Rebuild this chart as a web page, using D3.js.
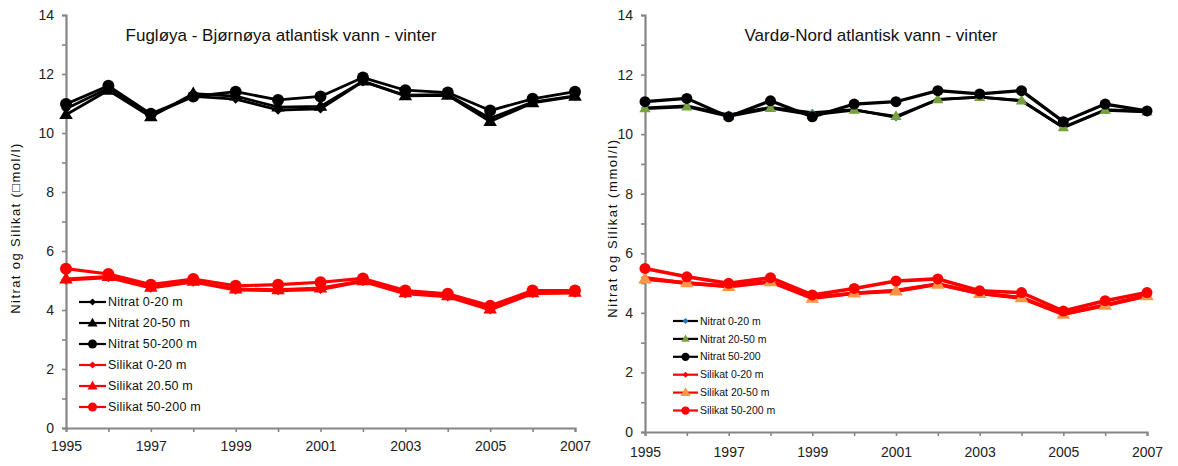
<!DOCTYPE html>
<html>
<head>
<meta charset="utf-8">
<script src="https://cdn.jsdelivr.net/npm/d3@7"></script>
<style>
  html, body { margin: 0; padding: 0; background: #fff; }
  svg { display: block; font-family: "Liberation Sans", Arial, sans-serif; }
</style>
</head>
<body>
<svg id="chart" width="1178" height="466"></svg>
<script>
// ---------- data ----------
const years = [1995,1996,1997,1998,1999,2000,2001,2002,2003,2004,2005,2006,2007];
const yTicks = [0,1,2,3,4,5,6,7,8,9,10,11,12,13,14];
const xTickLabels = [1995,1997,1999,2001,2003,2005,2007];

// Fugløya - Bjørnøya
const fbNitrat0_20   = [10.82,11.52,10.60,11.24,11.15,10.78,10.82,11.74,11.28,11.30,10.50,11.05,11.26];
const fbNitrat20_50  = [10.62,11.45,10.55,11.33,11.25,10.88,10.90,11.76,11.26,11.28,10.39,11.02,11.24];
const fbNitrat50_200 = [10.98,11.60,10.65,11.24,11.40,11.12,11.24,11.88,11.45,11.37,10.76,11.16,11.40];
const fbSilikat0_20  = [5.02,5.10,4.75,4.95,4.68,4.66,4.70,4.97,4.55,4.45,4.01,4.56,4.58];
const fbSilikat20_50 = [5.05,5.13,4.77,4.97,4.71,4.68,4.74,4.99,4.58,4.48,4.03,4.58,4.60];
const fbSilikat50_200= [5.40,5.22,4.86,5.05,4.82,4.86,4.94,5.07,4.66,4.55,4.14,4.66,4.66];

// Vardø-Nord
const vnNitrat0_20   = [10.88,10.95,10.65,10.90,10.72,10.82,10.56,11.17,11.24,11.13,10.23,10.82,10.76];
const vnNitrat20_50  = [10.86,10.92,10.60,10.87,10.65,10.81,10.60,11.16,11.24,11.12,10.22,10.80,10.75];
const vnNitrat50_200 = [11.09,11.20,10.58,11.12,10.58,11.01,11.09,11.46,11.35,11.46,10.42,11.01,10.78];
const vnSilikat0_20  = [5.18,4.99,4.90,5.05,4.52,4.66,4.75,4.97,4.66,4.51,3.96,4.26,4.58];
const vnSilikat20_50 = [5.13,5.01,4.88,5.04,4.49,4.66,4.73,4.96,4.65,4.50,3.95,4.25,4.57];
const vnSilikat50_200= [5.49,5.21,4.99,5.18,4.60,4.82,5.07,5.14,4.74,4.68,4.06,4.41,4.68];

const fbNames = ["Nitrat 0-20 m","Nitrat 20-50 m","Nitrat 50-200 m","Silikat 0-20 m","Silikat 20.50 m","Silikat 50-200 m"];
const vnNames = ["Nitrat 0-20 m","Nitrat 20-50 m","Nitrat 50-200","Silikat 0-20 m","Silikat 20-50 m","Silikat 50-200 m"];

const titles = ["Fugløya - Bjørnøya atlantisk vann - vinter","Vardø-Nord atlantisk vann - vinter"];
const yLabels = ["Nitrat og Silikat (\u25A1mol/l)","Nitrat og Silikat (mmol/l)"];

// ---------- drawing ----------
const svg = d3.select("#chart");

function drawPanel(cfg) {
  const g = svg.append("g");
  const x = d3.scaleLinear().domain([1995, 2007]).range([cfg.x0, cfg.x1]);
  const y = d3.scaleLinear().domain([0, 14]).range([cfg.y0, cfg.y1]);

  // axes
  const ya = g.append("g").attr("transform", `translate(${cfg.x0},0)`)
    .call(d3.axisLeft(y).tickValues(yTicks).tickSize(4).tickPadding(8)
      .tickFormat(d => d % 2 === 0 ? d : ""));
  const xa = g.append("g").attr("transform", `translate(0,${cfg.y0})`)
    .call(d3.axisBottom(x).tickValues(years).tickSize(4).tickPadding(cfg.xPad)
      .tickFormat(d => xTickLabels.includes(d) ? d : ""));
  [ya, xa].forEach(a => {
    a.select(".domain").attr("stroke", "#868686").attr("stroke-width", 2.2);
    a.selectAll(".tick line").attr("stroke", "#868686").attr("stroke-width", 1.6);
    a.selectAll(".tick text").attr("fill", "#222").style("font-size", "14px")
      .style("font-family", "'Liberation Sans', Arial, sans-serif");
  });

  // title
  g.append("text").attr("x", cfg.titleX).attr("y", 41).attr("text-anchor", "middle")
    .style("font-size", "17px").attr("fill", "#111").text(cfg.title);

  // y label
  g.append("text")
    .attr("transform", `translate(${cfg.yLabX},${cfg.yLabY}) rotate(-90)`)
    .attr("text-anchor", "middle").style("font-size", cfg.yLabFont)
    .style("letter-spacing", cfg.yLabLS).attr("fill", "#111").text(cfg.yLabel);

  const line = d3.line().x((d, i) => x(years[i])).y(d => y(d));

  function marker(sel, type, size, fill) {
    if (type === "circle") {
      sel.append("circle").attr("r", size).attr("fill", fill);
    } else if (type === "diamond") {
      sel.append("path").attr("d", d3.symbol(d3.symbolDiamond2, size * size * 1.6)()).attr("fill", fill);
    } else {
      sel.append("path").attr("d", d3.symbol(d3.symbolTriangle, size * size * 2.2)()).attr("fill", fill)
        .attr("transform", "translate(0,0.5)");
    }
  }

  cfg.series.forEach(s => {
    g.append("path").datum(s.values).attr("d", line)
      .attr("fill", "none").attr("stroke", s.line).attr("stroke-width", s.lw)
      .attr("stroke-linejoin", "round");
    s.values.forEach((v, i) => {
      const m = g.append("g").attr("transform", `translate(${x(years[i])},${y(v)})`);
      marker(m, s.marker, s.ms, s.fill);
    });
  });

  // legend
  cfg.series.forEach((s, i) => {
    const ly = cfg.legY + i * cfg.legDy;
    const lg = g.append("g").attr("transform", `translate(${cfg.legX},${ly})`);
    lg.append("line").attr("x1", 0).attr("x2", cfg.legLen).attr("y1", 0).attr("y2", 0)
      .attr("stroke", s.line).attr("stroke-width", 2.2);
    const mk = lg.append("g").attr("transform", `translate(${cfg.legLen / 2},0)`);
    marker(mk, s.marker, s.ms * 0.75, s.fill);
    lg.append("text").attr("x", cfg.legLen + 2).attr("y", 0).attr("dy", "0.35em")
      .style("font-size", cfg.legFont).style("letter-spacing", cfg.legLS)
      .attr("fill", "#111").text(cfg.names[i]);
  });
}

drawPanel({
  x0: 66, x1: 575, y0: 428, y1: 15, xPad: 9,
  title: titles[0], titleX: 281,
  yLabel: yLabels[0], yLabX: 20, yLabY: 228, yLabFont: "13px", yLabLS: "1.4px",
  legX: 79, legY: 302, legDy: 21, legLen: 27, legFont: "12.5px", legLS: "0.2px",
  names: fbNames,
  series: [
    {values: fbNitrat0_20,   line: "#000", fill: "#000", marker: "diamond",  ms: 6,   lw: 2.8},
    {values: fbNitrat20_50,  line: "#000", fill: "#000", marker: "triangle", ms: 6,   lw: 2.8},
    {values: fbNitrat50_200, line: "#000", fill: "#000", marker: "circle",   ms: 6,   lw: 2.8},
    {values: fbSilikat0_20,  line: "#ff0000", fill: "#ff0000", marker: "diamond",  ms: 6,   lw: 3.2},
    {values: fbSilikat20_50, line: "#ff0000", fill: "#ff0000", marker: "triangle", ms: 6,   lw: 3.2},
    {values: fbSilikat50_200,line: "#ff0000", fill: "#ff0000", marker: "circle",   ms: 6,   lw: 3.2}
  ]
});

drawPanel({
  x0: 645, x1: 1147, y0: 432, y1: 15, xPad: 11,
  title: titles[1], titleX: 871,
  yLabel: yLabels[1], yLabX: 617, yLabY: 228, yLabFont: "13px", yLabLS: "1.6px",
  legX: 673, legY: 321, legDy: 17.9, legLen: 25, legFont: "10.5px", legLS: "0px",
  names: vnNames,
  series: [
    {values: vnNitrat0_20,   line: "#000", fill: "#2e75b6", marker: "diamond",  ms: 5,   lw: 2.8},
    {values: vnNitrat20_50,  line: "#000", fill: "#77a13a", marker: "triangle", ms: 5,   lw: 2.8},
    {values: vnNitrat50_200, line: "#000", fill: "#000",    marker: "circle",   ms: 5.5, lw: 3.2},
    {values: vnSilikat0_20,  line: "#ff0000", fill: "#ff0000", marker: "diamond",  ms: 5,   lw: 3.6},
    {values: vnSilikat20_50, line: "#ff0000", fill: "#f79646", marker: "triangle", ms: 6,   lw: 3.6},
    {values: vnSilikat50_200,line: "#ff0000", fill: "#ff0000", marker: "circle",   ms: 5.5, lw: 3.6}
  ]
});
</script>
</body>
</html>
